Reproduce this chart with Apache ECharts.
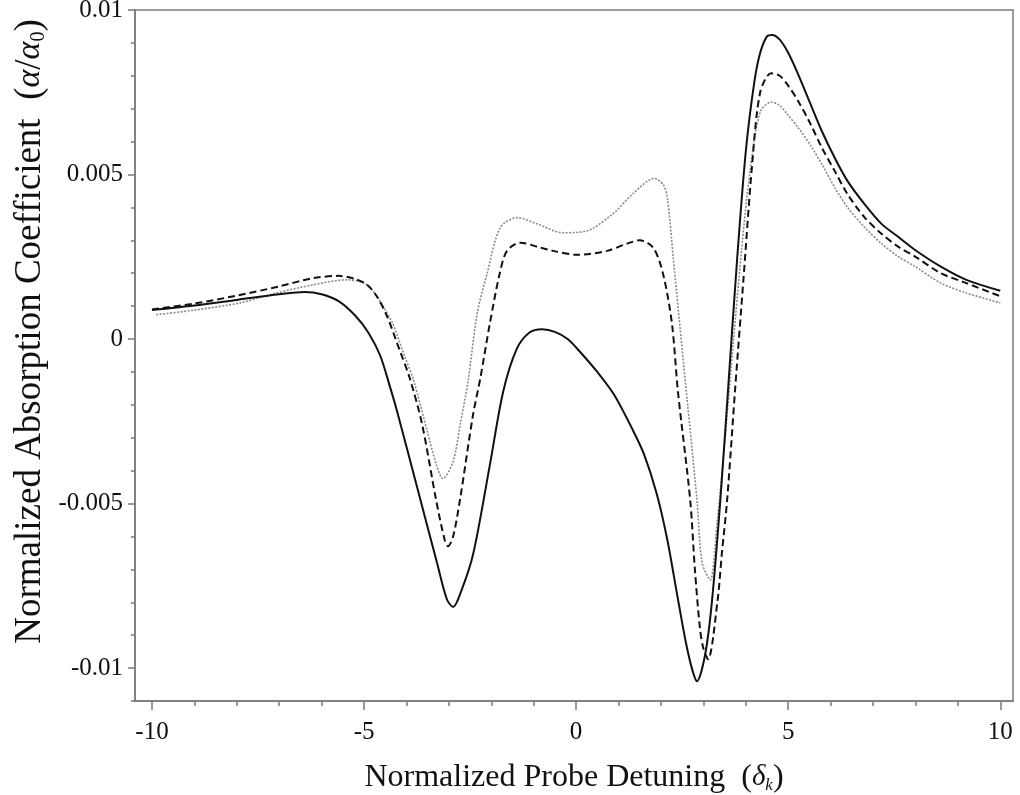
<!DOCTYPE html>
<html>
<head>
<meta charset="utf-8">
<script src="https://cdn.jsdelivr.net/npm/echarts@6/dist/echarts.min.js"></script>
<style>html,body{margin:0;padding:0;background:#fff}#c{width:1020px;height:795px}</style>
</head>
<body>
<div id="c"></div>
<script>
// ---- data ----
const xMajorTicks = [-10, -5, 0, 5, 10];
const xTickLabels = ['-10', '-5', '0', '5', '10'];
const xMinorTicks = [-10,-9,-8,-7,-6,-5,-4,-3,-2,-1,0,1,2,3,4,5,6,7,8,9,10];
const yMajorTicks = [-0.01, -0.005, 0, 0.005, 0.01];
const yTickLabels = ['-0.01', '-0.005', '0', '0.005', '0.01'];
const yMinorTicks = [-0.011,-0.01,-0.009,-0.008,-0.007,-0.006,-0.005,-0.004,-0.003,-0.002,-0.001,0,0.001,0.002,0.003,0.004,0.005,0.006,0.007,0.008,0.009,0.01];

const solidX = [-10,-9,-8,-7,-6.4,-6.0,-5.6,-5.2,-4.9,-4.62,-4.4,-4.22,-3.75,-3.28,-3.05,-2.9,-2.72,-2.43,-2.03,-1.72,-1.4,-1.1,-0.8,-0.5,-0.2,0.1,0.5,0.9,1.35,1.6,1.9,2.15,2.4,2.6,2.75,2.85,3.04,3.2,3.4,3.6,3.8,4.0,4.2,4.34,4.5,4.62,4.8,5.0,5.25,5.52,5.8,6.1,6.4,6.8,7.2,7.6,8.0,8.6,9.2,10];
const solidY = [0.00088,0.00102,0.00119,0.00136,0.00143,0.00136,0.00115,0.0007,0.0002,-0.0005,-0.0014,-0.0022,-0.0045,-0.0068,-0.0079,-0.00814,-0.0077,-0.00655,-0.0038,-0.0016,-0.0003,0.0002,0.0003,0.00022,0.0,-0.0004,-0.001,-0.0017,-0.0028,-0.0035,-0.0047,-0.0061,-0.0079,-0.0093,-0.0101,-0.0104,-0.0096,-0.008,-0.0049,-0.0012,0.0025,0.0057,0.0078,0.0087,0.0092,0.00924,0.0091,0.0087,0.008,0.00716,0.0063,0.0055,0.0048,0.0041,0.0035,0.0031,0.0027,0.0022,0.0018,0.00147];

const dashX = [-10,-9,-8,-7,-6.2,-5.6,-5.2,-4.93,-4.7,-4.46,-4.2,-3.92,-3.63,-3.3,-3.1,-3.02,-2.9,-2.74,-2.43,-2.26,-2.03,-1.8,-1.63,-1.32,-0.9,-0.54,0.02,0.73,1.2,1.5,1.82,2.05,2.26,2.4,2.69,2.8,2.92,3.0,3.11,3.33,3.44,3.56,3.75,3.95,4.15,4.34,4.6,4.8,5.0,5.25,5.52,5.8,6.1,6.4,6.8,7.2,7.6,8.0,8.6,9.2,10];
const dashY = [0.0009,0.00108,0.00132,0.0016,0.00185,0.00192,0.00182,0.00165,0.0013,0.0007,-0.0002,-0.0012,-0.0026,-0.0049,-0.0061,-0.0063,-0.006,-0.0049,-0.0023,-0.0012,0.0005,0.002,0.00268,0.00293,0.0028,0.00268,0.00256,0.00268,0.0029,0.003,0.00277,0.00198,0.00046,-0.00159,-0.0049,-0.007,-0.0088,-0.0094,-0.00973,-0.008,-0.00646,-0.0049,-0.0015,0.0019,0.0053,0.0075,0.00808,0.008,0.0077,0.0072,0.00655,0.0058,0.0051,0.0044,0.0037,0.0032,0.0028,0.0025,0.002,0.0017,0.0013];

const dotX = [-9.9,-9,-7.92,-7.15,-6.2,-5.4,-5.0,-4.79,-4.55,-4.32,-4.05,-3.84,-3.51,-3.3,-3.14,-2.9,-2.72,-2.55,-2.33,-2.1,-1.79,-1.39,-0.92,-0.31,0.26,0.87,1.34,1.84,2.05,2.15,2.29,2.52,2.85,2.97,3.16,3.33,3.5,3.7,3.9,4.1,4.34,4.6,4.8,5.0,5.25,5.52,5.8,6.1,6.4,6.8,7.2,7.6,8.0,8.6,9.2,10];
const dotY = [0.00074,0.00088,0.0011,0.00137,0.00165,0.0018,0.0017,0.00146,0.001,0.00046,-0.0005,-0.00122,-0.0028,-0.0038,-0.00424,-0.00372,-0.0025,-0.0013,0.0008,0.00198,0.00338,0.00369,0.0035,0.00323,0.00329,0.00381,0.00442,0.00488,0.0047,0.0043,0.00247,-0.00058,-0.0049,-0.0068,-0.00732,-0.0055,-0.0032,-0.0002,0.0027,0.0051,0.0069,0.0072,0.0071,0.0068,0.0064,0.0059,0.0053,0.0046,0.004,0.0034,0.0029,0.0025,0.0022,0.0017,0.0014,0.0011];

const pairs = (xs, ys) => xs.map((x, i) => [x, ys[i]]);

const axisGray = '#7a7a7a';
const serif = 'Liberation Serif';
const X_MIN = -10.4, X_MAX = 10.3, Y_MIN = -0.011, Y_MAX = 0.01;

const chart = echarts.init(document.getElementById('c'), null, {renderer: 'canvas'});
chart.setOption({
  animation: false,
  backgroundColor: '#fff',
  grid: {left: 135, top: 10, right: 7, bottom: 94, outerBoundsMode: 'none', containLabel: false,
         show: true, borderColor: axisGray, borderWidth: 1.5, backgroundColor: 'transparent'},
  xAxis: [
    {
      type: 'value', min: X_MIN, max: X_MAX, position: 'bottom',
      axisLine: {show: true, onZero: false, lineStyle: {color: axisGray, width: 1.5}},
      axisTick: {show: true, customValues: xMinorTicks, length: 5, lineStyle: {color: axisGray, width: 1.5}},
      axisLabel: {show: false}, splitLine: {show: false},
      name: '{t|Normalized Probe Detuning  (}{i|δ}{s|k}{t|)}',
      nameLocation: 'middle', nameGap: 60,
      nameTextStyle: {rich: {
        t: {fontFamily: serif, fontSize: 32, color: '#111'},
        i: {fontFamily: serif, fontSize: 29, fontStyle: 'italic', color: '#111'},
        s: {fontFamily: serif, fontSize: 17, fontStyle: 'italic', color: '#111', padding: [16, 0, 0, 0]}
      }}
    },
    {
      type: 'value', min: X_MIN, max: X_MAX, position: 'bottom',
      axisLine: {show: false, onZero: false},
      axisTick: {show: true, customValues: xMajorTicks, length: 9, lineStyle: {color: axisGray, width: 1.5}},
      axisLabel: {show: true, customValues: xMajorTicks, margin: 19,
        formatter: v => xTickLabels[xMajorTicks.indexOf(Math.round(v))] ?? '',
        fontFamily: serif, fontSize: 25, color: '#111'},
      splitLine: {show: false}
    }
  ],
  yAxis: [
    {
      type: 'value', min: Y_MIN, max: Y_MAX, position: 'left',
      axisLine: {show: true, onZero: false, lineStyle: {color: axisGray, width: 1.5}},
      axisTick: {show: true, customValues: yMinorTicks, length: 4, lineStyle: {color: axisGray, width: 1.5}},
      axisLabel: {show: false}, splitLine: {show: false},
      name: '{t|Normalized Absorption Coefficient  (}{i|α}{t|/}{i|α}{s|0}{t|)}',
      nameLocation: 'middle', nameGap: 86, nameRotate: 90,
      nameTextStyle: {padding: [0, 0, 0, 48], rich: {
        t: {fontFamily: serif, fontSize: 37, color: '#111'},
        i: {fontFamily: serif, fontSize: 34, fontStyle: 'italic', color: '#111'},
        s: {fontFamily: serif, fontSize: 20, color: '#111', padding: [18, 0, 0, 0]}
      }}
    },
    {
      type: 'value', min: Y_MIN, max: Y_MAX, position: 'left',
      axisLine: {show: false, onZero: false},
      axisTick: {show: true, customValues: yMajorTicks, length: 7, lineStyle: {color: axisGray, width: 1.5}},
      axisLabel: {show: true, customValues: yMajorTicks, margin: 12, padding: [6, 0, 0, 0],
        formatter: v => { const k = yMajorTicks.findIndex(t => Math.abs(t - v) < 1e-9); return k >= 0 ? yTickLabels[k] : ''; },
        fontFamily: serif, fontSize: 25, color: '#111'},
      splitLine: {show: false}
    }
  ],
  series: [
    {type: 'line', name: 'dotted', xAxisIndex: 0, yAxisIndex: 0, data: pairs(dotX, dotY),
     showSymbol: false, smooth: 0.3, lineStyle: {color: '#8a8a8a', width: 1.6, type: [2, 1.5]}},
    {type: 'line', name: 'dashed', xAxisIndex: 0, yAxisIndex: 0, data: pairs(dashX, dashY),
     showSymbol: false, smooth: 0.3, lineStyle: {color: '#111', width: 2, type: [7, 4]}},
    {type: 'line', name: 'solid', xAxisIndex: 0, yAxisIndex: 0, data: pairs(solidX, solidY),
     showSymbol: false, smooth: 0.3, lineStyle: {color: '#111', width: 2}}
  ]
});
</script>
</body>
</html>
